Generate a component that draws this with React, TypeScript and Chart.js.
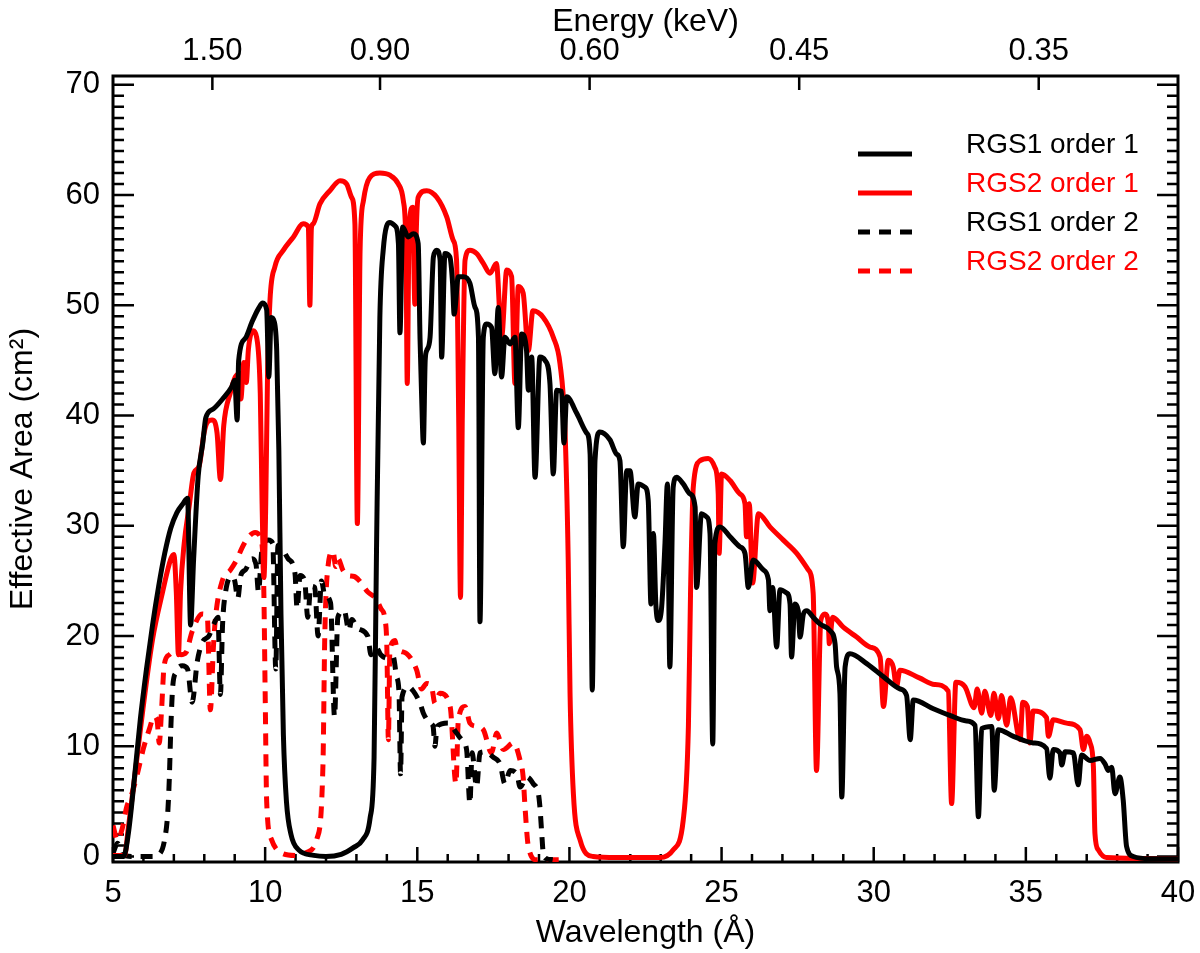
import { useEffect, useRef } from 'react';
import { Chart, registerables, type Plugin } from 'chart.js';

Chart.register(...registerables);

// wavelength (Å) / effective area (cm^2)
const rgs1Order1: [number, number][] = [
  [5.0, 0], [5.35, 0], [5.5, 2], [5.7, 7], [5.9, 12.5], [6.1, 17], [6.3, 21], [6.5, 24.5],
  [6.7, 27.5], [6.9, 29.8], [7.1, 31.2], [7.3, 32], [7.45, 32.5], [7.55, 21], [7.65, 27],
  [7.8, 34.5], [7.95, 37.5], [8.05, 39.8], [8.3, 40.6], [8.6, 41.5], [8.9, 42.6], [9.0, 43.2],
  [9.08, 39.6], [9.13, 45], [9.35, 47], [9.57, 48.5], [9.78, 49.7], [9.92, 50.2], [10.05, 49.6],
  [10.12, 43.5], [10.2, 48.9], [10.3, 48.5], [10.38, 45.9], [10.45, 36.9], [10.52, 22],
  [10.6, 11], [10.7, 5], [10.85, 2], [11.1, 0.6], [11.6, 0.1], [12.0, 0], [12.5, 0.2],
  [12.9, 0.8], [13.2, 1.5], [13.45, 3.5], [13.58, 9], [13.66, 27.8], [13.77, 48.9], [13.88, 55],
  [14.1, 57.5], [14.27, 57.2], [14.38, 55.6], [14.43, 47.5], [14.52, 57.1], [14.7, 56.2],
  [14.87, 56.5], [15.03, 55.6], [15.09, 47], [15.14, 42], [15.2, 37.5], [15.26, 45],
  [15.31, 45.9], [15.42, 47.1], [15.53, 54.4], [15.64, 55], [15.75, 54.1], [15.8, 45.3],
  [15.91, 54.7], [16.07, 54.4], [16.16, 52], [16.21, 49.2], [16.35, 52.6], [16.51, 52.6],
  [16.73, 52], [16.9, 49.8], [17.01, 47.1], [17.06, 21.3], [17.17, 47.1], [17.28, 48.3],
  [17.44, 48], [17.55, 43.8], [17.66, 49.8], [17.77, 43.5], [17.88, 47.1], [18.05, 46.5],
  [18.21, 47.1], [18.32, 38.9], [18.43, 47.4], [18.59, 45.9], [18.65, 42.3], [18.76, 45.3],
  [18.87, 34.4], [19.03, 45.3], [19.2, 45], [19.36, 42.9], [19.47, 34.7], [19.58, 42.3],
  [19.74, 42.2], [19.82, 37.5], [19.91, 41.7], [20.24, 40.2], [20.57, 38.4], [20.68, 36.5],
  [20.75, 15.1], [20.84, 35.9], [21.0, 38.5], [21.33, 37.8], [21.55, 36.5], [21.66, 35.9],
  [21.77, 28.1], [21.88, 35], [21.99, 35], [22.15, 30.8], [22.26, 33.8], [22.48, 33.5],
  [22.59, 32.3], [22.68, 22.9], [22.76, 29.3], [22.84, 22.9], [22.92, 21.4], [23.03, 22.6],
  [23.14, 28.4], [23.22, 33.8], [23.3, 17.2], [23.41, 33.5], [23.52, 34.4], [23.74, 33.8],
  [23.96, 32.9], [24.13, 31.7], [24.18, 24.4], [24.34, 31.1], [24.51, 30.8], [24.62, 29.3],
  [24.71, 10.2], [24.78, 28.4], [24.95, 29.9], [25.28, 29], [25.6, 28.1], [25.77, 27.5],
  [25.88, 24.4], [26.04, 26.9], [26.37, 26], [26.54, 25.1], [26.59, 22.3], [26.68, 24.4],
  [26.81, 19], [26.92, 24.2], [27.14, 23.9], [27.25, 22.9], [27.3, 18.1], [27.41, 22.9],
  [27.52, 22.3], [27.58, 19.9], [27.69, 22], [27.8, 22.3], [28.01, 21.7], [28.23, 21.1],
  [28.56, 20.5], [28.73, 19.3], [28.78, 17.2], [28.89, 14.8], [28.95, 5.4], [29.06, 17.2],
  [29.22, 18.4], [29.77, 17.5], [30.32, 16.3], [30.86, 15.2], [31.08, 14.6], [31.2, 10.6],
  [31.3, 14.2], [31.96, 13.4], [32.5, 12.8], [33.05, 12.3], [33.33, 11.9], [33.44, 3.6],
  [33.55, 11.6], [33.88, 11.8], [33.96, 6.0], [34.09, 11.5], [34.59, 10.9], [35.24, 10.3],
  [35.68, 9.8], [35.79, 7.1], [35.9, 9.7], [36.12, 9.4], [36.18, 8.3], [36.29, 9.5],
  [36.56, 9.4], [36.72, 6.5], [36.83, 9.2], [37.11, 8.7], [37.44, 8.9], [37.6, 8.4],
  [37.71, 7.8], [37.82, 8.1], [37.93, 5.7], [38.09, 7.2], [38.2, 5.1], [38.31, 0.9],
  [38.53, 0], [39.08, -0.2], [40.0, -0.2],
];

const rgs2Order1: [number, number][] = [
  [5.0, 0.1], [5.38, 0.1], [5.5, 2.5], [5.76, 8.3], [5.98, 13.3], [6.3, 19.7], [6.63, 24],
  [6.9, 27], [7.0, 27.4], [7.08, 24], [7.15, 18.3], [7.22, 24], [7.34, 28.4], [7.5, 31.7],
  [7.66, 34.8], [7.83, 35.4], [7.99, 38.4], [8.1, 39.4], [8.26, 39.6], [8.42, 38.4],
  [8.53, 34.2], [8.64, 39.1], [8.86, 42.1], [9.02, 43.5], [9.15, 43.8], [9.2, 41.5],
  [9.3, 44.8], [9.38, 43], [9.45, 46], [9.61, 47.7], [9.72, 47.1], [9.84, 42], [9.9, 32],
  [9.96, 25.3], [10.02, 32], [10.08, 44], [10.16, 50.5], [10.32, 53.5], [10.6, 55], [10.93, 56.2],
  [11.25, 57.4], [11.42, 57.1], [11.47, 50], [11.52, 57], [11.58, 57.4], [11.8, 59.2],
  [12.13, 60.4], [12.46, 61.3], [12.68, 61], [12.84, 59.8], [12.95, 57.4], [13.03, 30.2],
  [13.12, 55], [13.23, 59.5], [13.44, 61.6], [13.77, 62], [14.1, 61.8], [14.38, 61],
  [14.54, 59.5], [14.63, 55], [14.67, 42.9], [14.72, 55], [14.76, 58], [14.85, 58.9],
  [14.92, 50.1], [14.97, 57], [15.03, 59.8], [15.31, 60.4], [15.64, 59.8], [15.97, 58],
  [16.18, 55.9], [16.29, 54.1], [16.36, 40], [16.42, 23.5], [16.48, 40], [16.57, 54.1],
  [16.73, 55], [16.95, 54.7], [17.17, 53.8], [17.39, 52.9], [17.6, 53.8], [17.77, 47.1],
  [17.94, 53.2], [18.1, 52.6], [18.21, 42.9], [18.32, 51.7], [18.48, 51.1], [18.65, 45.9],
  [18.8, 49.5], [19.14, 48.9], [19.47, 47.1], [19.69, 44.7], [19.85, 39], [19.96, 26.9],
  [20.02, 14.8], [20.13, 5.7], [20.35, 1.5], [20.78, 0], [21.55, -0.1], [22.98, -0.1],
  [23.41, 0.6], [23.74, 3.3], [23.91, 11.8], [23.98, 23.9], [24.07, 33.5], [24.29, 35.9],
  [24.56, 36.1], [24.78, 35.3], [24.89, 32.9], [24.92, 27.5], [25.0, 34.7], [25.28, 34.1],
  [25.6, 32.9], [25.77, 32], [25.82, 29], [25.91, 32], [26.02, 24.8], [26.21, 31.1],
  [26.59, 29.9], [27.03, 28.7], [27.47, 27.5], [27.85, 26], [28.01, 23.9], [28.12, 7.8],
  [28.26, 21.4], [28.4, 22], [28.51, 21.1], [28.54, 19.3], [28.65, 21.7], [29.0, 20.8],
  [29.44, 19.9], [29.88, 19.0], [30.21, 18.1], [30.32, 13.6], [30.48, 17.8], [30.64, 17.2],
  [30.75, 15.4], [30.86, 16.9], [31.5, 16.2], [32.0, 15.6], [32.45, 15.0], [32.56, 4.8],
  [32.7, 15.8], [33.0, 15.4], [33.3, 13.5], [33.4, 15.2], [33.55, 13], [33.65, 15],
  [33.85, 12.8], [33.95, 14.8], [34.1, 12.5], [34.2, 14.6], [34.37, 11.9], [34.5, 14.4],
  [34.81, 10.6], [34.9, 14], [35.05, 13.6], [35.13, 10.3], [35.24, 13.2], [35.68, 12.6],
  [35.74, 10.9], [35.9, 12.4], [36.34, 12.1], [36.78, 11.5], [36.89, 9.7], [37.0, 10.9],
  [37.11, 10.3], [37.22, 8.1], [37.27, 2.1], [37.38, 0.6], [37.65, -0.1], [40.0, -0.2],
];

const rgs1Order2: [number, number][] = [
  [5.0, 0.3], [5.15, 1.2], [5.3, 0.2], [5.6, 0], [6.3, 0], [6.55, 0.3], [6.68, 1.3], [6.8, 4],
  [6.85, 7], [6.9, 11.6], [6.96, 15.3], [7.07, 16.7], [7.28, 17.3], [7.45, 17], [7.6, 14],
  [7.77, 17.7], [7.93, 19.4], [8.15, 20], [8.3, 21], [8.45, 21.7], [8.53, 14.7], [8.6, 21],
  [8.7, 24], [8.9, 25.4], [9.0, 25], [9.1, 23.4], [9.2, 25.5], [9.35, 26], [9.57, 27],
  [9.7, 26.5], [9.78, 24], [9.89, 27.7], [10.1, 28.7], [10.25, 28.4], [10.35, 17],
  [10.42, 28.2], [10.54, 28], [10.76, 27], [10.98, 25.7], [11.05, 22.5], [11.15, 25.5],
  [11.3, 25], [11.4, 21.7], [11.5, 24.5], [11.63, 24.4], [11.74, 20], [11.85, 25],
  [11.96, 23.7], [12.15, 23], [12.28, 12.7], [12.39, 21.7], [12.6, 22.3], [12.75, 20.5],
  [12.85, 21.5], [13.04, 20.7], [13.37, 20], [13.48, 18.3], [13.64, 19], [13.8, 18.3],
  [14.0, 18], [14.21, 18.1], [14.32, 16.3], [14.4, 14.8], [14.45, 7.5], [14.5, 14.5],
  [14.71, 15.4], [14.87, 15], [15.09, 13.9], [15.2, 13], [15.42, 12.1], [15.52, 11.8],
  [15.58, 10], [15.65, 11.8], [16.02, 12.1], [16.29, 11.2], [16.46, 10.6], [16.62, 9.7],
  [16.73, 4.8], [16.8, 9.4], [16.95, 6.3], [17.06, 9.4], [17.23, 9.5], [17.5, 9.0],
  [17.72, 8.4], [17.88, 6.6], [18.05, 7.8], [18.27, 7.5], [18.38, 6.3], [18.6, 7.2],
  [18.81, 6.6], [18.98, 5.7], [19.03, 4.5], [19.09, 2.1], [19.14, 0.3], [19.25, -0.2],
  [19.45, -0.3],
];

const rgs2Order2: [number, number][] = [
  [5.0, 2.8], [5.15, 1.5], [5.3, 2.5], [5.45, 4.5], [5.6, 5.5], [5.8, 7.5], [6.0, 9.8],
  [6.2, 11.6], [6.35, 12.7], [6.45, 12.3], [6.52, 10.3], [6.6, 13.5], [6.68, 17.3],
  [6.85, 18.3], [7.07, 18.7], [7.23, 18.3], [7.4, 18.5], [7.6, 20.4], [7.93, 22], [8.1, 21.7],
  [8.2, 13.3], [8.3, 19], [8.37, 21.7], [8.59, 25], [8.86, 26], [9.08, 27], [9.24, 28],
  [9.46, 29], [9.67, 29.4], [9.84, 29], [9.95, 25], [10.0, 15], [10.05, 5], [10.2, 1.6],
  [10.55, 0.3], [11.0, 0.1], [11.4, 0.4], [11.7, 1.6], [11.9, 8.3], [11.96, 20], [12.07, 26.4],
  [12.23, 27.7], [12.32, 26.3], [12.4, 27], [12.55, 26], [12.7, 25.5], [12.93, 25.4],
  [13.1, 25], [13.37, 24], [13.64, 23.4], [13.8, 22.5], [13.94, 21.5], [14.0, 19],
  [14.05, 10.6], [14.1, 18.7], [14.27, 19.6], [14.32, 19], [14.65, 18.4], [14.98, 16.9],
  [15.14, 15.2], [15.31, 15.7], [15.47, 15.4], [15.58, 13.9], [15.75, 14.8], [16.08, 13.6],
  [16.27, 6.6], [16.35, 12.4], [16.57, 13.6], [16.73, 12.1], [16.95, 11.8], [17.17, 11.5],
  [17.44, 9.4], [17.61, 11.2], [17.83, 9.7], [18.16, 10.3], [18.38, 8.7], [18.48, 7.2],
  [18.54, 4.5], [18.65, 0.9], [18.92, -0.3], [19.9, -0.3],
];

const seriesLabels = ['RGS1 order 1', 'RGS2 order 1', 'RGS1 order 2', 'RGS2 order 2'];
const xTicks = [5, 10, 15, 20, 25, 30, 35, 40];
const yTicks = [0, 10, 20, 30, 40, 50, 60, 70];
const energyTicks = [1.5, 0.9, 0.6, 0.45, 0.35]; // keV
const HC = 12.398; // keV Å

const RED = '#ff0000';
const FONT = "'Liberation Sans', Arial, Helvetica, sans-serif";

const toPoints = (pts: [number, number][]) => pts.map(([x, y]) => ({ x, y }));

// IDL style box with inward ticks, plus the legend in the upper right
const idlFrame: Plugin<'line'> = {
  id: 'idlFrame',
  beforeDatasetsDraw(chart) {
    const { ctx, chartArea: a, scales } = chart;
    const x = scales.x;
    const y = scales.y;
    const x2 = scales.x2;
    ctx.save();
    ctx.strokeStyle = '#000';
    ctx.lineWidth = 2.5;
    ctx.beginPath();
    for (let v = 5; v <= 40; v++) {
      const p = x.getPixelForValue(v);
      const len = v % 5 === 0 ? 15 : 8;
      ctx.moveTo(p, a.bottom);
      ctx.lineTo(p, a.bottom - len);
    }
    for (let v = 0; v <= 70; v++) {
      const p = y.getPixelForValue(v);
      const len = v % 10 === 0 ? 21 : 11;
      ctx.moveTo(a.left, p);
      ctx.lineTo(a.left + len, p);
      ctx.moveTo(a.right, p);
      ctx.lineTo(a.right - len, p);
    }
    energyTicks.forEach((e) => {
      const p = x2.getPixelForValue(HC / e);
      ctx.moveTo(p, a.top);
      ctx.lineTo(p, a.top + 14);
    });
    ctx.stroke();
    ctx.lineWidth = 3;
    ctx.strokeRect(a.left, a.top, a.right - a.left, a.bottom - a.top);
    ctx.restore();
  },
  afterDatasetsDraw(chart) {
    const { ctx } = chart;
    ctx.save();
    ctx.font = `28px ${FONT}`;
    ctx.textBaseline = 'middle';
    ctx.textAlign = 'left';
    chart.data.datasets.forEach((ds: any, i) => {
      const rowY = 154 + i * 39;
      ctx.strokeStyle = ds.borderColor;
      ctx.lineWidth = 5;
      ctx.setLineDash(ds.borderDash || []);
      ctx.beginPath();
      ctx.moveTo(858, rowY);
      ctx.lineTo(912, rowY);
      ctx.stroke();
      ctx.setLineDash([]);
      ctx.fillStyle = ds.borderColor;
      ctx.fillText(ds.label, 966, rowY - 9);
    });
    ctx.restore();
  },
};

export default function App() {
  const canvasRef = useRef<HTMLCanvasElement>(null);
  const chartRef = useRef<Chart | null>(null);

  useEffect(() => {
    if (!canvasRef.current) return;
    if (chartRef.current) chartRef.current.destroy();

    const line = (pts: [number, number][], i: number, color: string, dashed: boolean) => ({
      label: seriesLabels[i],
      data: toPoints(pts),
      borderColor: color,
      backgroundColor: color,
      borderWidth: 5,
      borderDash: dashed ? [12, 9] : [],
      borderJoinStyle: 'round' as const,
      pointRadius: 0,
      cubicInterpolationMode: 'monotone' as const,
      fill: false,
      xAxisID: 'x',
      yAxisID: 'y',
    });

    // drop the label overhang Chart.js reserves, so the box sits where we put it
    const noPad = (s: any) => {
      s.paddingLeft = 0;
      s.paddingRight = 0;
      s.paddingTop = 0;
      s.paddingBottom = 0;
    };

    chartRef.current = new Chart(canvasRef.current, {
      type: 'line',
      data: {
        datasets: [
          line(rgs1Order1, 0, '#000000', false),
          line(rgs2Order1, 1, RED, false),
          line(rgs1Order2, 2, '#000000', true),
          line(rgs2Order2, 3, RED, true),
        ],
      },
      options: {
        animation: false,
        responsive: false,
        devicePixelRatio: 1,
        layout: { padding: { left: 0, right: 22, top: 0, bottom: 0 } },
        plugins: { legend: { display: false }, tooltip: { enabled: false } },
        scales: {
          x: {
            type: 'linear',
            position: 'bottom',
            min: 5,
            max: 40,
            afterBuildTicks: (s: any) => {
              s.ticks = xTicks.map((v) => ({ value: v }));
            },
            afterFit: (s: any) => {
              s.height = 91;
              noPad(s);
            },
            grid: { display: false, drawTicks: false },
            border: { display: false },
            ticks: {
              color: '#000',
              padding: 16,
              maxRotation: 0,
              font: { family: FONT, size: 31, lineHeight: 1 },
              callback: (v: any) => String(v),
            },
            title: {
              display: true,
              text: 'Wavelength (Å)',
              color: '#000',
              font: { family: FONT, size: 32, lineHeight: 1 },
              padding: { top: 0, bottom: 4 },
            },
          },
          x2: {
            type: 'linear',
            position: 'top',
            min: 5,
            max: 40,
            afterBuildTicks: (s: any) => {
              s.ticks = energyTicks.map((e) => ({ value: HC / e }));
            },
            afterFit: (s: any) => {
              s.height = 76;
              noPad(s);
            },
            grid: { display: false, drawTicks: false },
            border: { display: false },
            ticks: {
              color: '#000',
              padding: 9,
              maxRotation: 0,
              autoSkip: false,
              font: { family: FONT, size: 31, lineHeight: 1 },
              callback: (v: any) => {
                const e = energyTicks.find((en) => Math.abs(HC / en - v) < 1e-6);
                return e !== undefined ? e.toFixed(2) : '';
              },
            },
            title: {
              display: true,
              text: 'Energy (keV)',
              color: '#000',
              font: { family: FONT, size: 32, lineHeight: 1 },
              padding: { top: 6, bottom: 0 },
            },
          },
          y: {
            type: 'linear',
            position: 'left',
            min: -0.5,
            max: 70.8,
            afterBuildTicks: (s: any) => {
              s.ticks = yTicks.map((v) => ({ value: v }));
            },
            afterFit: (s: any) => {
              s.width = 113;
              noPad(s);
            },
            grid: { display: false, drawTicks: false },
            border: { display: false },
            ticks: {
              color: '#000',
              padding: 13,
              font: { family: FONT, size: 31, lineHeight: 1 },
              callback: (v: any) => String(v),
            },
            title: {
              display: true,
              text: 'Effective Area (cm²)',
              color: '#000',
              font: { family: FONT, size: 32, lineHeight: 1 },
              padding: { top: 7, bottom: 0 },
            },
          },
        },
      },
      plugins: [idlFrame],
    });

    return () => {
      if (chartRef.current) {
        chartRef.current.destroy();
        chartRef.current = null;
      }
    };
  }, []);

  return (
    <div style={{ position: 'absolute', left: 0, top: 0, width: 1200, height: 953, background: '#fff' }}>
      <canvas ref={canvasRef} width={1200} height={953} />
    </div>
  );
}
